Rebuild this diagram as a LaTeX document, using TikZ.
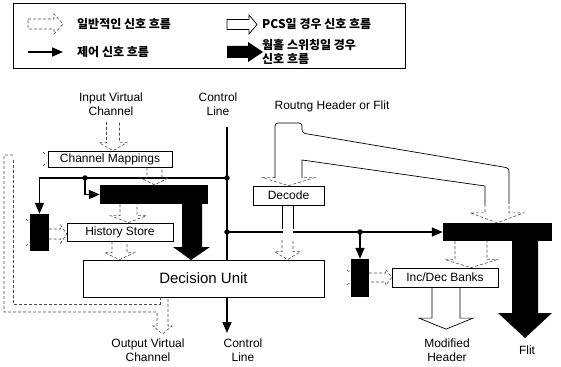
\documentclass[tikz,border=0pt]{standalone}
\usepackage{fontspec}
\setmainfont{Liberation Sans}
\newfontfamily\kor{Noto Sans CJK KR}
\usetikzlibrary{positioning,arrows.meta,calc}

\tikzset{
  box/.style={draw, line width=0.7pt, fill=white, inner sep=0pt, font=\fontsize{12}{14}\selectfont},
  blk/.style={fill=black, draw=none, inner sep=0pt},
  lab/.style={font=\fontsize{12}{14.5}\selectfont, align=center, inner sep=0pt},
  kortext/.style={font=\kor\bfseries\fontsize{12}{14}\selectfont, anchor=west, inner sep=0pt, align=left},
  ctrl/.style={line width=1.6pt, -{Triangle[length=11pt,width=9pt]}},
  gen/.style={draw=black!70, line width=0.6pt, dash pattern=on 3pt off 2pt},
  pcs/.style={draw=black, line width=0.7pt},
  joint/.style={circle, fill=black, inner sep=0pt, minimum size=5.5pt},
}

% hollow flow arrow going down: style, x centre, from, to, half body, half head, head length
\newcommand{\flowdown}[7]{%
  \draw[#1] let \p1=(#3), \p2=(#4) in
    ({#2pt-#5pt},\y1) -- ({#2pt-#5pt},\y2+#7pt) -- ({#2pt-#6pt},\y2+#7pt) -- (#2pt,\y2)
    -- ({#2pt+#6pt},\y2+#7pt) -- ({#2pt+#5pt},\y2+#7pt) -- ({#2pt+#5pt},\y1);}
% hollow flow arrow going right: style, y centre, from, to, half body, half head, head length
\newcommand{\flowright}[7]{%
  \draw[#1] let \p1=(#3), \p2=(#4) in
    (\x1,{-#2pt+#5pt}) -- (\x2-#7pt,{-#2pt+#5pt}) -- (\x2-#7pt,{-#2pt+#6pt}) -- (\x2,-#2pt)
    -- (\x2-#7pt,{-#2pt-#6pt}) -- (\x2-#7pt,{-#2pt-#5pt}) -- (\x1,{-#2pt-#5pt});}

\begin{document}
\begin{tikzpicture}[x=1pt,y=-1pt]
\useasboundingbox (0,0) rectangle (561,366);

% legend
\node[draw, line width=0.6pt, minimum width=392, minimum height=65, inner sep=0pt] (legend) at (209,35.5) {};
\draw[gen] (28,19) -- (54,19) -- (54,14) -- (63,24) -- (54,34) -- (54,29) -- (28,29) -- cycle;
\draw[pcs] (227,19.5) -- (249,19.5) -- (249,15) -- (257,24.5) -- (249,34) -- (249,29.5) -- (227,29.5) -- cycle;
\draw[ctrl] (28,52) -- (63,52);
\fill (227,46) -- (248,46) -- (248,42) -- (263,52) -- (248,62) -- (248,58) -- (227,58) -- cycle;
\node[kortext] (g1) at (77,24) {일반적인 신호 흐름};
\node[kortext] (g2) at (262,24) {PCS일 경우 신호 흐름};
\node[kortext] (g3) at (77,52) {제어 신호 흐름};
\node[kortext] (g4) at (262,52) {웜홀 스위칭일 경우\\신호 흐름};

% control line
\coordinate (ct) at (227,127);
\coordinate (cb) at (227,333);
\coordinate (j1) at (227,178);
\coordinate (j2) at (227,232);
\coordinate (j3) at (85,178);
\coordinate (j4) at (360,232);
\draw[ctrl] (ct) -- (cb);

% units
\node[box, minimum width=124, minimum height=16] (cmap) at (110,159) {Channel Mappings};
\node[box, minimum width=106, minimum height=18] (hist) at (120,232) {History Store};
\node[box, minimum width=241, minimum height=37, font=\fontsize{15}{17}\selectfont] (dec) at (203.5,278.5) {Decision Unit};
\node[box, minimum width=71, minimum height=19] (deco) at (288.5,195.5) {Decode};
\node[box, minimum width=106, minimum height=19] (incd) at (445,277.5) {Inc/Dec Banks};
\node[blk, minimum width=19, minimum height=37] (lsel) at (39.5,232.5) {};
\node[blk, minimum width=18, minimum height=38] (rsel) at (360,278) {};
\node[blk, minimum width=108, minimum height=19] (lbar) at (154,194.5) {};
\node[blk, minimum width=109, minimum height=18] (rbar) at (497.5,232) {};
\fill (182,204) -- (182,247) -- (173,247) -- (191,260) -- (210,247) -- (202,247) -- (202,204) -- cycle;
\fill (512,240) -- (512,313) -- (498,313) -- (525,338) -- (552,313) -- (538,313) -- (538,240) -- cycle;

% labels
\node[lab] (inp) at (111,104) {Input Virtual\\Channel};
\node[lab] (ctop) at (218,104) {Control\\Line};
\node[lab] (cbot) at (243,350) {Control\\Line};
\node[lab] (outp) at (148,350) {Output Virtual\\Channel};
\node[lab] (hdr) at (332,106) {Routng Header or Flit};
\node[lab] (mhdr) at (447,350) {Modified\\Header};
\node[lab] (flit) at (527,350) {Flit};

% control signals
\draw[ctrl] (j1) -| (lsel.north);
\draw[ctrl] (j3) |- (lbar.west);
\draw[ctrl] (j2) -- (rbar.west);
\draw[ctrl] (j4) -- (rsel.north);
\node[joint] (d1) at (j1) {};
\node[joint] (d2) at (j2) {};
\node[joint] (d3) at (j3) {};
\node[joint] (d4) at (j4) {};

% general flow
\flowdown{gen}{113}{$(inp.south)+(0,6)$}{cmap.north}{6.5}{14}{8}
\flowdown{gen}{154.5}{cmap.south}{lbar.north}{7.5}{14}{7}
\flowdown{gen}{128.5}{lbar.south}{hist.north}{8.5}{18}{7}
\flowdown{gen}{119.5}{hist.south}{dec.north}{7.5}{15}{7}
\flowright{gen}{234}{lsel.east}{hist.west}{5}{9}{6}
\flowright{gen}{277.5}{rsel.east}{incd.west}{4.5}{8}{6}
\flowdown{gen}{471}{rbar.south}{incd.north}{16}{26}{8}
\draw[gen] (13,155) -- (4,155) -- (4,312) -- (157,312) -- (157,326) -- (153,326) -- (162.5,334)
  -- (172,326) -- (168,326) -- (168,297);
\draw[gen] (13,160) -- (13,304) -- (160,304) -- (160,297);
\draw[gen] (43,152) -- (47,156) (43,166) -- (47,162);
\draw[gen] (26,219) -- (30,223) (26,246) -- (30,242);
\draw[gen] (347,270) -- (351,273) (347,285) -- (351,282);

% pcs flow
\draw[pcs, rounded corners=3pt] (275,178) -- (275,123) -- (302,123) -- (302,133) -- (509,168) -- (509,204);
\draw[pcs] (302,178) -- (302,160) -- (485,186) -- (485,204);
\flowdown{gen}{288.5}{0,178}{deco.north}{13.5}{26}{8}
\flowdown{gen}{497}{0,204}{rbar.north}{12}{27}{10}
\fill[white] (282.5,206) rectangle (292.5,237);
\draw[pcs] (282,205) -- (282,229) (293,205) -- (293,229);
\flowdown{gen}{287.5}{0,240}{dec.north}{5.5}{13}{8}
\flowdown{pcs}{446}{incd.south}{$(mhdr.north)+(0,-9)$}{14}{27}{11}
\end{tikzpicture}
\end{document}
